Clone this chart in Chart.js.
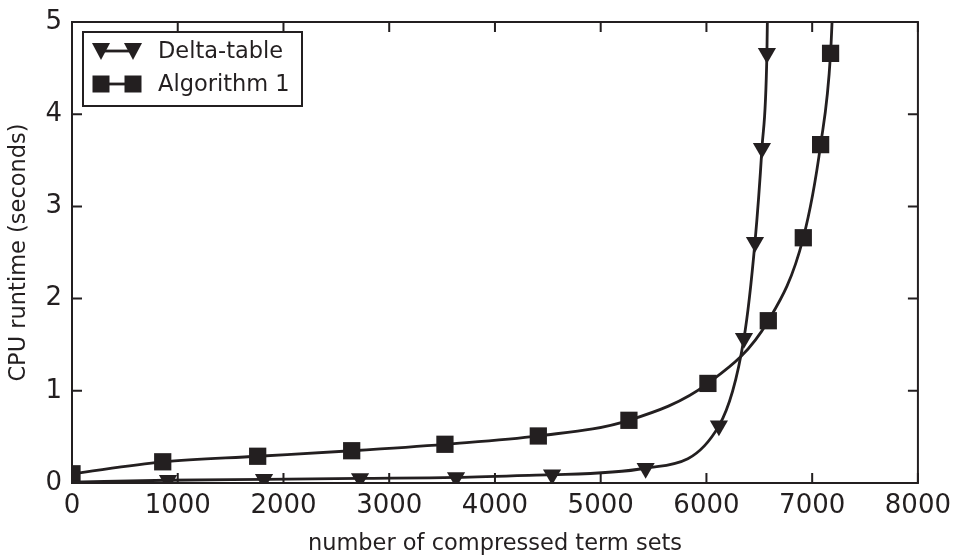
<!DOCTYPE html>
<html>
<head>
<meta charset="utf-8">
<script src="https://cdn.jsdelivr.net/npm/chart.js@4"></script>
<style>
  body { margin:0; background:#fff; }
  #wrap { width:959px; height:558px; }
</style>
</head>
<body>
<div id="wrap"><canvas id="c" width="959" height="558"></canvas></div>
<script>
// Delta-table
const deltaX = [0, 908, 1816, 2724, 3632, 4540, 5425, 6118, 6355, 6459, 6525, 6572, 6590];
const deltaY = [0.01, 0.03, 0.04, 0.05, 0.06, 0.09, 0.16, 0.62, 1.57, 2.61, 3.63, 4.66, 6.2];
// Algorithm 1
const algoX = [0, 858, 1756, 2645, 3527, 4410, 5267, 6014, 6585, 6916, 7080, 7174, 7215];
const algoY = [0.1, 0.23, 0.29, 0.35, 0.42, 0.51, 0.68, 1.08, 1.76, 2.66, 3.67, 4.66, 5.8];

const xTicks = [0, 1000, 2000, 3000, 4000, 5000, 6000, 7000, 8000];
const yTicks = [0, 1, 2, 3, 4, 5];

const INK = '#231f20';
const FONT = 'DejaVu Sans';

const pts = (xs, ys) => xs.map((x,i)=>({x, y:ys[i]}));
// marker on every point except the trailing off-chart one
const radii = (n, r, skipFirst) => Array.from({length:n}, (_,i)=> (i===n-1 || (skipFirst && i===0)) ? 0 : r);

const frame = {
  id:'frame',
  afterDraw(chart) {
    const {ctx, chartArea:a, scales:{x, y}} = chart;
    ctx.save();
    ctx.strokeStyle = INK; ctx.lineWidth = 2;
    ctx.strokeRect(a.left, a.top, a.right-a.left, a.bottom-a.top);
    const tl = 10;
    ctx.beginPath();
    xTicks.forEach(v => {
      const px = x.getPixelForValue(v);
      ctx.moveTo(px, a.bottom); ctx.lineTo(px, a.bottom-tl);
      ctx.moveTo(px, a.top); ctx.lineTo(px, a.top+tl);
    });
    yTicks.forEach(v => {
      const py = y.getPixelForValue(v);
      ctx.moveTo(a.left, py); ctx.lineTo(a.left+tl, py);
      ctx.moveTo(a.right, py); ctx.lineTo(a.right-tl, py);
    });
    ctx.stroke();

    // legend
    const bx = a.left+11, by = a.top+10, bw = 219, bh = 74;
    ctx.fillStyle = '#fff';
    ctx.fillRect(bx, by, bw, bh);
    ctx.lineWidth = 2;
    ctx.strokeRect(bx, by, bw, bh);
    chart.data.datasets.forEach((ds, i) => {
      const cy = by + 19 + i*33;
      const m1 = bx + 18, m2 = bx + 50;
      ctx.strokeStyle = INK; ctx.lineWidth = 2.8;
      ctx.beginPath(); ctx.moveTo(m1, cy); ctx.lineTo(m2, cy); ctx.stroke();
      ctx.fillStyle = INK;
      [m1, m2].forEach(mx => {
        ctx.beginPath();
        if (ds.pointStyle === 'rect') {
          ctx.rect(mx-8.5, cy-8.5, 17, 17);
        } else {
          ctx.moveTo(mx-9, cy-8); ctx.lineTo(mx+9, cy-8); ctx.lineTo(mx, cy+9); ctx.closePath();
        }
        ctx.fill();
      });
      ctx.font = `22.5px "${FONT}"`;
      ctx.textBaseline = 'middle';
      ctx.fillText(ds.label, bx + 75, cy + 1);
    });
    ctx.restore();
  }
};

new Chart(document.getElementById('c'), {
  type:'scatter',
  data:{
    datasets:[
      { label:'Delta-table', data:pts(deltaX, deltaY), showLine:true,
        borderColor:INK, backgroundColor:INK, borderWidth:2.8,
        pointStyle:'triangle', rotation:180, pointRadius:radii(deltaX.length, 10.5, true),
        pointBorderWidth:0, cubicInterpolationMode:'monotone' },
      { label:'Algorithm 1', data:pts(algoX, algoY), showLine:true,
        borderColor:INK, backgroundColor:INK, borderWidth:2.8,
        pointStyle:'rect', pointRadius:radii(algoX.length, 12.2, false),
        pointBorderWidth:0, cubicInterpolationMode:'monotone' }
    ]
  },
  options:{
    responsive:false, animation:false,
    layout:{ padding:{ top:22, right:36, left:0, bottom:0 } },
    plugins:{ legend:{display:false}, tooltip:{enabled:false} },
    scales:{
      x:{ type:'linear', min:0, max:8000,
        afterBuildTicks: s => { s.ticks = xTicks.map(v=>({value:v})); },
        afterFit: s => { s.height = 75; },
        grid:{ display:false, drawTicks:false }, border:{display:false},
        ticks:{ color:INK, font:{family:FONT, size:26}, padding:8, maxRotation:0,
          callback: v => String(v) },
        title:{ display:true, text:'number of compressed term sets', color:INK,
          font:{family:FONT, size:22.5}, padding:{top:2, bottom:0} } },
      y:{ type:'linear', min:0, max:5,
        afterBuildTicks: s => { s.ticks = yTicks.map(v=>({value:v})); },
        afterFit: s => { s.width = 72; },
        grid:{ display:false, drawTicks:false }, border:{display:false},
        ticks:{ color:INK, font:{family:FONT, size:26, lineHeight:0.8}, padding:10, callback: v => String(v) },
        title:{ display:true, text:'CPU runtime (seconds)', color:INK,
          font:{family:FONT, size:22.5}, padding:{top:6, bottom:4} } }
    }
  },
  plugins:[frame]
});
</script>
</body>
</html>
